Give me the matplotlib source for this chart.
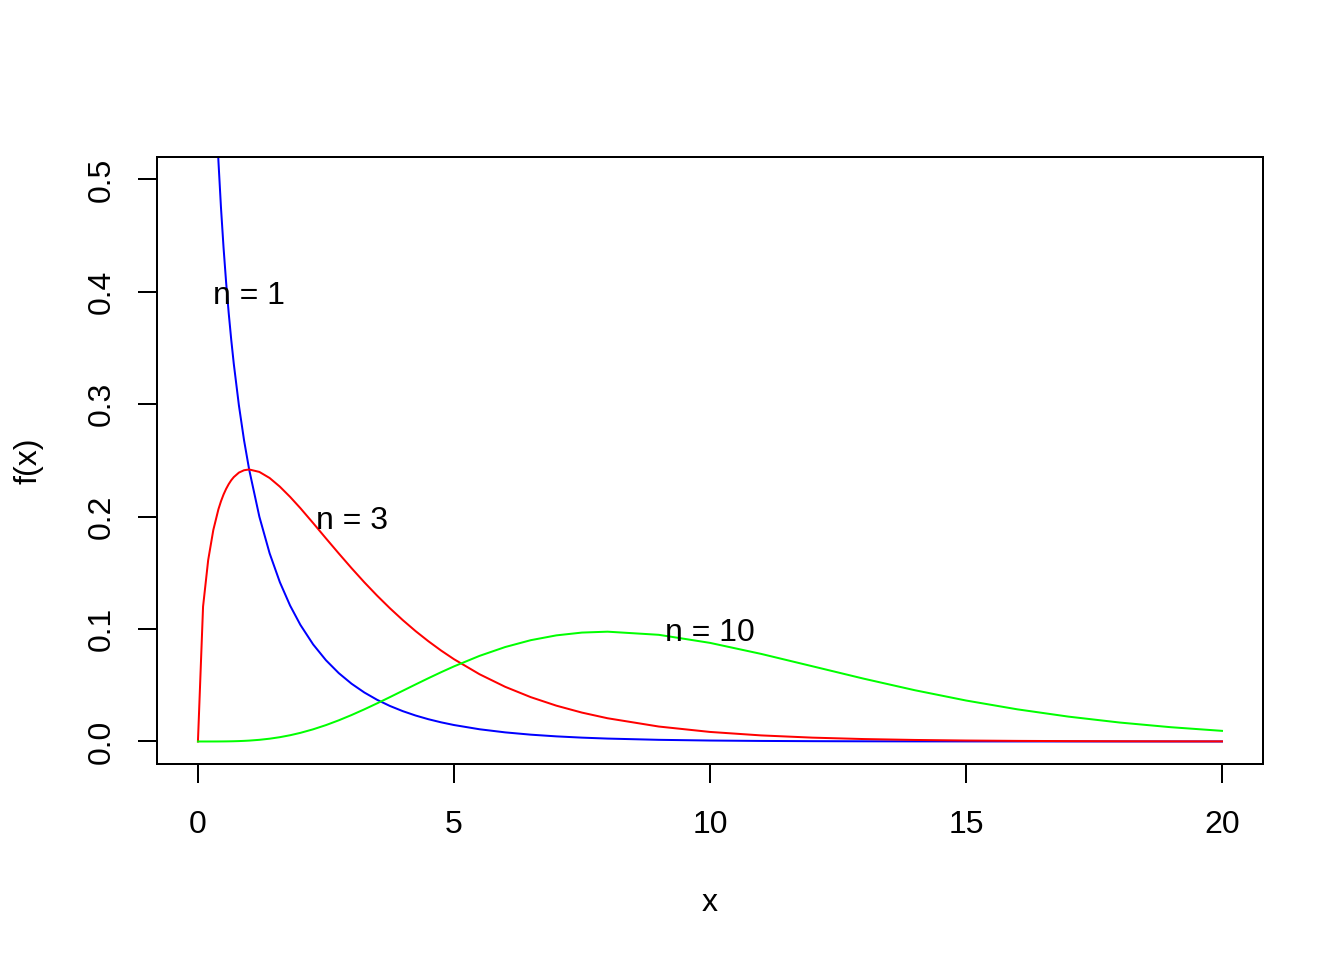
import matplotlib
matplotlib.use("Agg")
import matplotlib.pyplot as plt
import numpy as np

plt.rcParams['font.family'] = ['Liberation Sans', 'DejaVu Sans']
plt.rcParams['font.size'] = 12

# Values
x_vals = [0, 0.1, 0.2, 0.3, 0.4, 0.45, 0.5, 0.55, 0.6, 0.65, 0.7, 0.8, 0.9, 1.0,
          1.2, 1.4, 1.6, 1.8, 2.0, 2.25, 2.5, 2.75, 3.0, 3.25, 3.5, 3.75, 4.0,
          4.25, 4.5, 4.75, 5.0, 5.5, 6, 6.5, 7, 7.5, 8, 9, 10, 11, 12,
          13, 14, 15, 16, 17, 18, 19, 20]
n1_vals = [np.nan, 1.2000, 0.8072, 0.6269, 0.5164, 0.4749, 0.4394, 0.4086, 0.3815,
           0.3575, 0.3360, 0.2990, 0.2681, 0.2420,
           0.1999, 0.1674, 0.1417, 0.1209, 0.1038, 0.08634, 0.07229, 0.06083,
           0.05139, 0.04358, 0.03706, 0.03159, 0.02700, 0.02311, 0.01982, 0.01703,
           0.01465, 0.01087, 0.008109, 0.006067, 0.004553, 0.003426, 0.002583,
           0.001477, 0.000850, 0.000492, 0.000285, 0.000166,
           0.0000972, 0.0000570, 0.0000335, 0.0000197, 0.0000116, 0.0000069, 0.0000040]
n3_vals = [0, 0.1200, 0.1614, 0.1881, 0.2066, 0.2137, 0.2197, 0.2247, 0.2289,
           0.2324, 0.2352, 0.2392, 0.2413, 0.2420,
           0.2398, 0.2344, 0.2267, 0.2176, 0.2076, 0.1943, 0.1807, 0.1673,
           0.1542, 0.1416, 0.1297, 0.1185, 0.1080, 0.09822, 0.08920, 0.08087,
           0.07322, 0.05981, 0.04865, 0.03944, 0.03187, 0.02569, 0.02067,
           0.01330, 0.008500, 0.005407, 0.003426, 0.002163,
           0.001361, 0.000855, 0.000535, 0.000335, 0.000209, 0.000130, 0.000081]
n10_vals = [0, 1.24e-7, 1.885e-6, 9.08e-6, 2.73e-5, 4.264e-5, 6.34e-5, 9.050e-5,
            1.250e-4, 1.679e-4, 2.203e-4, 3.575e-4, 5.447e-4, 7.898e-4,
            1.4818e-3, 2.484e-3, 3.834e-3, 5.557e-3, 7.664e-3, 0.010834, 0.014572,
            0.018828, 0.023533, 0.028605, 0.033954, 0.039486, 0.045113, 0.050734,
            0.056277, 0.061654, 0.066801, 0.076169, 0.084016, 0.090122, 0.094404,
            0.096892, 0.097685, 0.094903, 0.087733, 0.077909, 0.066928,
            0.055910, 0.045613, 0.036458, 0.028626, 0.022128, 0.016869,
            0.012701, 0.009458]

labels = ["n = 1", "n = 3", "n = 10"]
label_x = [1, 3, 10]
label_y = [0.4, 0.2, 0.1]
colors = ["#0000FF", "#FF0000", "#00FF00"]

x_ticks = [0, 5, 10, 15, 20]
y_ticks = [0.0, 0.1, 0.2, 0.3, 0.4, 0.5]

fig = plt.figure(figsize=(7, 5), dpi=192)
ax = fig.add_axes([0.1168, 0.2042, 0.8229, 0.6323])

for ys, c in zip([n1_vals, n3_vals, n10_vals], colors):
    ax.plot(x_vals, ys, color=c, linewidth=0.75)

for t, tx, ty in zip(labels, label_x, label_y):
    ax.annotate(t, (tx, ty), xytext=(0, -1.5), textcoords='offset points',
                ha='center', va='center', fontsize=12)

ax.set_xlim(-0.8, 20.8)
ax.set_ylim(-0.02, 0.52)
ax.set_xticks(x_ticks)
ax.set_xticklabels([str(v) for v in x_ticks])
ax.set_yticks(y_ticks)
ax.set_yticklabels([f"{v:.1f}" for v in y_ticks], rotation=90, va='center')
ax.tick_params(direction='out', length=7.2, width=0.75)
ax.tick_params(axis='x', pad=10)
ax.tick_params(axis='y', pad=8)
for s in ax.spines.values():
    s.set_linewidth(0.75)

ax.set_xlabel("x", labelpad=18)
ax.set_ylabel("f(x)", labelpad=16)

fig.savefig("out.png", dpi=192)
